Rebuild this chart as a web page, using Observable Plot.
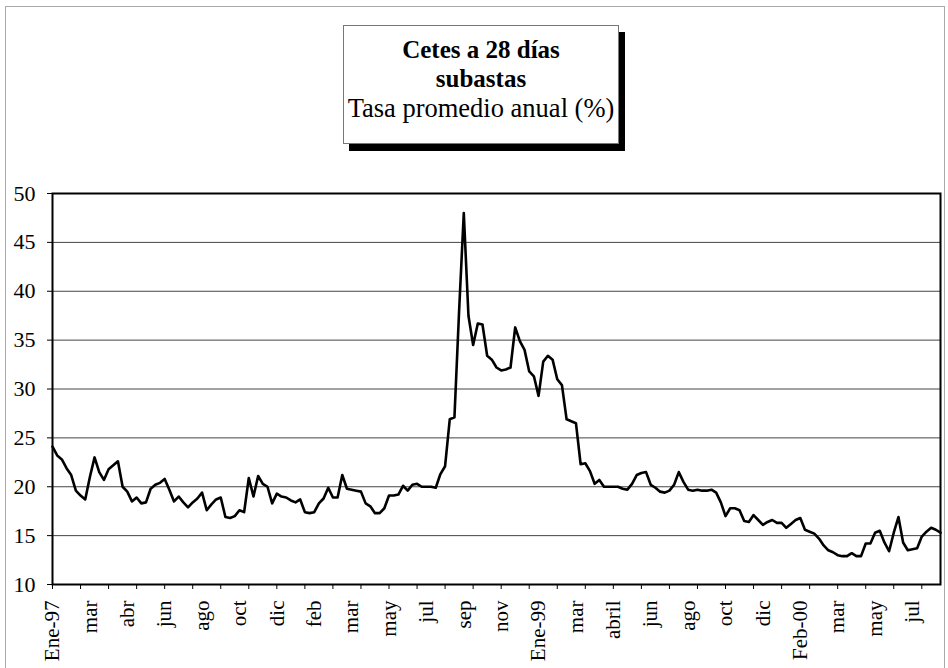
<!DOCTYPE html>
<html>
<head>
<meta charset="utf-8">
<script src="https://cdn.jsdelivr.net/npm/d3@7"></script>
<script src="https://cdn.jsdelivr.net/npm/@observablehq/plot@0.6"></script>
<style>
  body { margin: 0; background: #fff; }
  #wrap { position: relative; width: 948px; height: 668px; overflow: hidden;
          font-family: "Liberation Serif", "Times New Roman", serif; background: #fff; }
  #border { position: absolute; left: 5px; top: 6px; width: 940px; height: 700px;
            border: 1px solid #aaa; box-sizing: border-box; }
  #chart { position: absolute; left: 0; top: 0; }
  #title { position: absolute; left: 343px; top: 25px; width: 276px; height: 119px;
           border: 1px solid #777; background: #fff; box-shadow: 6px 7px 0 #000;
           box-sizing: border-box; text-align: center; color: #000; padding-top: 9px; }
  #title .l1, #title .l2 { font-weight: bold; font-size: 25px; line-height: 29px; }
  #title .l3 { font-size: 26.5px; line-height: 31px; white-space: nowrap; }
</style>
</head>
<body>
<div id="wrap">
  <div id="border"></div>
  <div id="chart"></div>
  <div id="title">
    <div class="l1">Cetes a 28 días</div>
    <div class="l2">subastas</div>
    <div class="l3">Tasa promedio anual (%)</div>
  </div>
</div>
<script>
// Weekly auction rate, Cetes 28 days (annual %), Jan 1997 – Aug 2000
const rates = [
  24.1, 23.2, 22.8, 21.9, 21.2, 19.6, 19.1, 18.7, 21.0, 23.0,
  21.5, 20.7, 21.8, 22.2, 22.6, 20.0, 19.5, 18.5, 18.9, 18.3,
  18.4, 19.8, 20.2, 20.4, 20.8, 19.7, 18.5, 19.0, 18.4, 17.9,
  18.4, 18.8, 19.4, 17.6, 18.2, 18.7, 18.9, 16.9, 16.8, 17.0,
  17.6, 17.4, 20.9, 19.0, 21.1, 20.3, 20.0, 18.3, 19.3, 19.0,
  18.9, 18.6, 18.4, 18.7, 17.4, 17.3, 17.4, 18.3, 18.8, 19.9,
  18.9, 18.9, 21.2, 19.8, 19.7, 19.6, 19.5, 18.3, 18.0, 17.3,
  17.3, 17.8, 19.1, 19.1, 19.2, 20.1, 19.6, 20.2, 20.3, 20.0,
  20.0, 20.0, 19.9, 21.3, 22.1, 26.9, 27.1, 38.0, 48.0, 37.5,
  34.5, 36.7, 36.6, 33.4, 33.0, 32.2, 31.9, 32.0, 32.2, 36.3,
  34.9, 34.0, 31.8, 31.3, 29.3, 32.8, 33.4, 33.0, 31.0, 30.4,
  26.9, 26.7, 26.5, 22.3, 22.4, 21.6, 20.3, 20.7, 20.0, 20.0,
  20.0, 20.0, 19.8, 19.7, 20.3, 21.2, 21.4, 21.5, 20.2, 19.9,
  19.5, 19.4, 19.6, 20.2, 21.5, 20.5, 19.7, 19.6, 19.7, 19.6,
  19.6, 19.7, 19.4, 18.4, 17.0, 17.8, 17.8, 17.6, 16.5, 16.4,
  17.1, 16.6, 16.1, 16.4, 16.6, 16.3, 16.3, 15.8, 16.2, 16.6,
  16.8, 15.6, 15.4, 15.2, 14.7, 14.0, 13.5, 13.3, 13.0, 12.9,
  12.9, 13.2, 12.9, 12.9, 14.2, 14.2, 15.3, 15.5, 14.3, 13.4,
  15.3, 16.9, 14.3, 13.5, 13.6, 13.7, 14.9, 15.4, 15.8, 15.6,
  15.3
];
// Category labels shown every 8 weeks
const monthLabels = ["Ene-97","mar","abr","jun","ago","oct","dic","feb","mar","may","jul","sep",
  "nov","Ene-99","mar","abril","jun","ago","oct","dic","Feb-00","mar","may","jul"];
const yTicks = [10, 15, 20, 25, 30, 35, 40, 45, 50];

const data = rates.map((v, i) => ({week: i, rate: v}));
const labelTicks = monthLabels.map((_, k) => k * 8);
const minorTicks = d3.range(0, rates.length, 6);
const font = '"Liberation Serif", "Times New Roman", serif';

const chart = Plot.plot({
  width: 948,
  height: 668,
  marginLeft: 52,
  marginRight: 8,
  marginTop: 193,
  marginBottom: 84,
  style: {fontFamily: font, background: "transparent", color: "#000"},
  x: {domain: [0, rates.length - 1], axis: null},
  y: {domain: [10, 50], axis: null},
  marks: [
    Plot.ruleY(yTicks, {stroke: "#444", strokeWidth: 1}),
    Plot.axisY({ticks: yTicks, tickFormat: d => d, tickSize: 5, tickPadding: 12, fontSize: 22,
                stroke: "#000", label: null}),
    Plot.axisX({ticks: minorTicks, tickFormat: () => "", tickSize: 5, stroke: "#000", label: null}),
    Plot.axisX({ticks: labelTicks, tickFormat: i => monthLabels[i / 8], tickSize: 0, tickPadding: 16,
                tickRotate: -90, fontSize: 21, label: null}),
    Plot.line(data, {x: "week", y: "rate", stroke: "#000", strokeWidth: 2.6, strokeLinejoin: "round"}),
    Plot.frame({stroke: "#000", strokeWidth: 2})
  ]
});
document.getElementById("chart").appendChild(chart);
</script>
</body>
</html>
